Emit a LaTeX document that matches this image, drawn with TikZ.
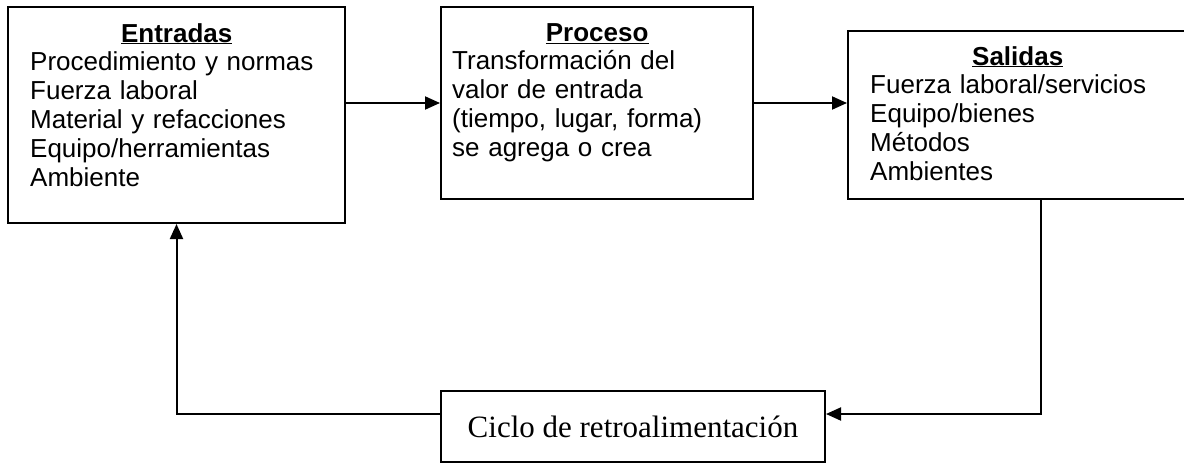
\documentclass[tikz,border=0pt]{standalone}
\usepackage{fontspec}
\setmainfont{Liberation Sans}
\newfontfamily\serifa{Liberation Serif}
\usetikzlibrary{arrows.meta}
\setlength{\parindent}{0pt}
\tikzset{
  caja/.style={draw, line width=2pt, rectangle, inner sep=0pt},
  texto/.style={anchor=north west, inner sep=0pt, align=left, font=\fontsize{26}{28.8}\selectfont},
  flecha/.style={line width=2pt, -{Triangle[length=15pt,width=13pt]}}
}
\begin{document}
\begin{tikzpicture}[x=1pt,y=-1pt]
\useasboundingbox (0,0) rectangle (1184,463);
% cajas
\node[caja, minimum width=337pt, minimum height=216pt] (entradas) at (176.5,115) {};
\node[caja, minimum width=312pt, minimum height=192pt] (proceso) at (597,103) {};
\node[caja, minimum width=339pt, minimum height=168pt] (salidas) at (1017.5,115) {};
\node[caja, minimum width=384pt, minimum height=71pt, font=\serifa\fontsize{31}{36}\selectfont] (ciclo) at (633,426.5) {Ciclo de retroalimentación};
% textos
\node[texto, text width=293pt] (entTxt) at (30,23) {{\centering\bfseries\underline{Entradas}\par}Procedimiento y normas\\Fuerza laboral\\Material y refacciones\\Equipo/herramientas\\Ambiente};
\node[texto, text width=290pt] (proTxt) at (452,23) {{\centering\bfseries\underline{Proceso}\par}Transformación del\\valor de entrada\\(tiempo, lugar, forma)\\se agrega o crea};
\node[texto, text width=295pt] (salTxt) at (870,46) {{\centering\bfseries\underline{Salidas}\par}Fuerza laboral/servicios\\Equipo/bienes\\Métodos\\Ambientes};
% flechas
\coordinate (retro) at (0,414);
\draw[flecha] (entradas.east |- proceso.west) -- (proceso.west);
\draw[flecha] (proceso.east) -- (salidas.west |- proceso.east);
\draw[flecha] ([xshift=23.5pt]salidas.south) |- (ciclo.east |- retro);
\draw[flecha] (ciclo.west |- retro) -| (entradas.south);
\end{tikzpicture}
\end{document}
